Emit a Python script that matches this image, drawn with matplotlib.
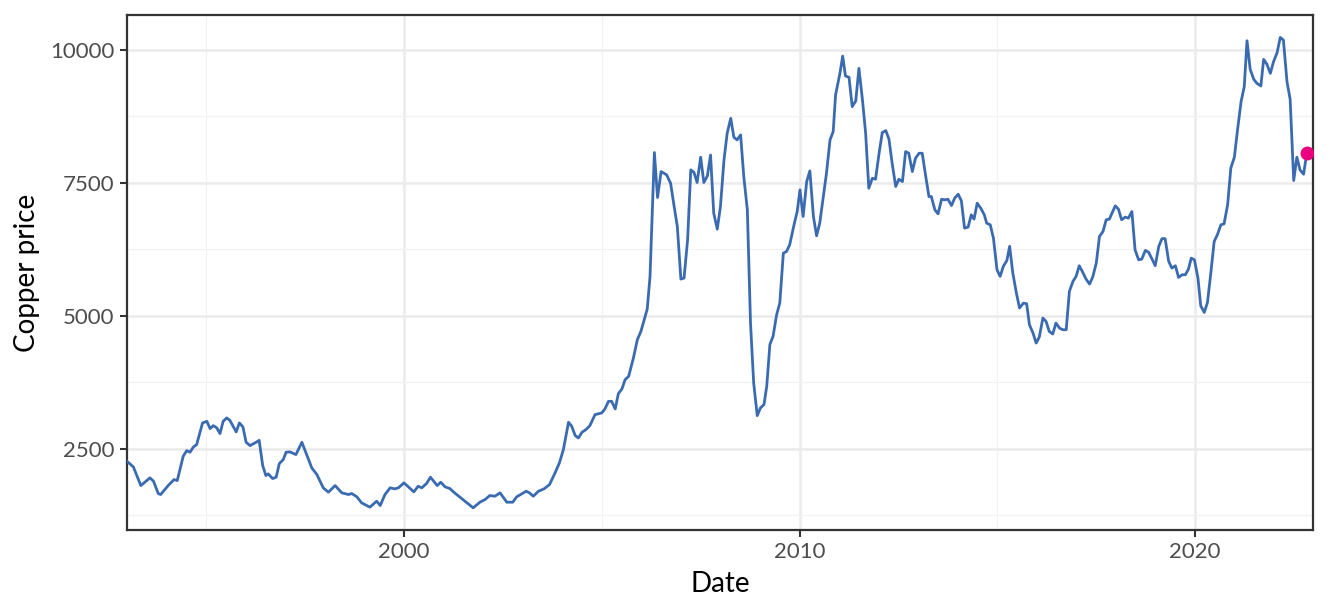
import matplotlib
matplotlib.use("Agg")
import matplotlib.pyplot as plt
import numpy as np

# copper price (decimal year, price)
years = [
    1993.00, 1993.16, 1993.35, 1993.58, 1993.67, 1993.79, 1993.85, 1994.04, 1994.19, 1994.27,
    1994.42, 1994.51, 1994.59, 1994.68, 1994.76, 1994.91, 1995.02, 1995.10, 1995.18, 1995.27,
    1995.35, 1995.43, 1995.52, 1995.60, 1995.76, 1995.84, 1995.93, 1996.01, 1996.11, 1996.28,
    1996.34, 1996.43, 1996.51, 1996.57, 1996.68, 1996.77, 1996.85, 1996.95, 1997.02, 1997.12,
    1997.27, 1997.42, 1997.54, 1997.67, 1997.80, 1997.96, 1998.09, 1998.26, 1998.43, 1998.60,
    1998.68, 1998.81, 1998.93, 1999.14, 1999.31, 1999.40, 1999.52, 1999.65, 1999.77, 1999.86,
    2000.00, 2000.11, 2000.25, 2000.36, 2000.45, 2000.57, 2000.67, 2000.84, 2000.93, 2001.04,
    2001.16, 2001.26, 2001.54, 2001.75, 2001.92, 2002.05, 2002.17, 2002.30, 2002.43, 2002.60,
    2002.75, 2002.85, 2003.09, 2003.17, 2003.27, 2003.40, 2003.54, 2003.68, 2003.82, 2003.93,
    2004.03, 2004.16, 2004.24, 2004.33, 2004.41, 2004.50, 2004.60, 2004.70, 2004.83, 2005.00,
    2005.08, 2005.17, 2005.25, 2005.34, 2005.42, 2005.51, 2005.59, 2005.68, 2005.80, 2005.90,
    2005.99, 2006.15, 2006.22, 2006.33, 2006.41, 2006.50, 2006.64, 2006.74, 2006.83, 2006.91,
    2007.00, 2007.08, 2007.17, 2007.25, 2007.33, 2007.41, 2007.50, 2007.58, 2007.67, 2007.75,
    2007.83, 2007.92, 2008.00, 2008.09, 2008.17, 2008.26, 2008.34, 2008.42, 2008.51, 2008.59,
    2008.68, 2008.76, 2008.84, 2008.93, 2009.01, 2009.10, 2009.17, 2009.25, 2009.33, 2009.42,
    2009.50, 2009.59, 2009.67, 2009.75, 2009.86, 2009.94, 2010.01, 2010.09, 2010.18, 2010.26,
    2010.35, 2010.43, 2010.51, 2010.60, 2010.68, 2010.77, 2010.85, 2010.91, 2011.02, 2011.09,
    2011.16, 2011.25, 2011.33, 2011.42, 2011.50, 2011.59, 2011.67, 2011.75, 2011.84, 2011.92,
    2012.01, 2012.09, 2012.18, 2012.26, 2012.34, 2012.43, 2012.51, 2012.60, 2012.68, 2012.76,
    2012.85, 2012.93, 2013.02, 2013.10, 2013.19, 2013.27, 2013.33, 2013.42, 2013.50, 2013.59,
    2013.67, 2013.75, 2013.84, 2013.92, 2014.01, 2014.09, 2014.17, 2014.26, 2014.34, 2014.41,
    2014.49, 2014.58, 2014.67, 2014.73, 2014.82, 2014.90, 2014.99, 2015.07, 2015.15, 2015.24,
    2015.31, 2015.39, 2015.48, 2015.56, 2015.66, 2015.74, 2015.81, 2015.90, 2015.98, 2016.06,
    2016.15, 2016.23, 2016.31, 2016.40, 2016.48, 2016.57, 2016.65, 2016.74, 2016.82, 2016.91,
    2016.99, 2017.07, 2017.16, 2017.24, 2017.33, 2017.41, 2017.50, 2017.58, 2017.67, 2017.75,
    2017.83, 2017.98, 2018.06, 2018.14, 2018.23, 2018.31, 2018.40, 2018.48, 2018.57, 2018.65,
    2018.74, 2018.82, 2018.91, 2018.99, 2019.08, 2019.16, 2019.24, 2019.33, 2019.41, 2019.50,
    2019.58, 2019.67, 2019.75, 2019.83, 2019.90, 2019.98, 2020.07, 2020.14, 2020.23, 2020.31,
    2020.39, 2020.48, 2020.56, 2020.65, 2020.73, 2020.82, 2020.90, 2020.99, 2021.07, 2021.16,
    2021.24, 2021.31, 2021.39, 2021.48, 2021.56, 2021.66, 2021.73, 2021.81, 2021.90, 2021.98,
    2022.07, 2022.15, 2022.23, 2022.32, 2022.40, 2022.49, 2022.57, 2022.65, 2022.74, 2022.82,
]
price = [
    2261, 2156, 1804, 1949, 1886, 1654, 1635, 1804, 1917, 1898,
    2355, 2462, 2431, 2531, 2575, 2983, 3013, 2876, 2932, 2889,
    2782, 3013, 3077, 3032, 2813, 2983, 2908, 2619, 2556, 2626,
    2656, 2180, 1992, 2024, 1936, 1961, 2218, 2293, 2431, 2437,
    2387, 2619, 2387, 2137, 2011, 1761, 1679, 1804, 1667, 1635,
    1654, 1592, 1479, 1397, 1510, 1428, 1635, 1761, 1742, 1761,
    1855, 1780, 1686, 1792, 1761, 1842, 1961, 1804, 1867, 1780,
    1748, 1679, 1510, 1385, 1491, 1541, 1616, 1604, 1667, 1491,
    1491, 1592, 1698, 1667, 1604, 1698, 1742, 1823, 2043, 2231,
    2481, 2995, 2920, 2744, 2700, 2807, 2857, 2932, 3139, 3171,
    3246, 3389, 3389, 3246, 3534, 3622, 3797, 3860, 4205, 4550,
    4706, 5127, 5741, 8071, 7225, 7713, 7651, 7494, 7055, 6680,
    5690, 5709, 6429, 7745, 7700, 7507, 7983, 7507, 7632, 8025,
    6930, 6630, 7055, 7933, 8434, 8716, 8359, 8309, 8403, 7619,
    6993, 4862, 3734, 3120, 3264, 3327, 3671, 4461, 4611, 5019,
    5238, 6178, 6209, 6335, 6711, 6961, 7369, 6868, 7525, 7726,
    6868, 6504, 6742, 7243, 7682, 8309, 8465, 9155, 9562, 9887,
    9512, 9487, 8935, 9042, 9656, 9061, 8434, 7400, 7588, 7569,
    8058, 8447, 8484, 8322, 7871, 7432, 7569, 7525, 8089, 8058,
    7713, 7964, 8058, 8058, 7619, 7243, 7243, 6993, 6918, 7193,
    7181, 7193, 7074, 7212, 7287, 7162, 6649, 6668, 6899, 6818,
    7118, 7024, 6899, 6742, 6711, 6461, 5865, 5741, 5929, 6041,
    6307, 5803, 5428, 5146, 5238, 5226, 4832, 4675, 4486, 4599,
    4956, 4894, 4706, 4656, 4862, 4769, 4737, 4737, 5459, 5647,
    5741, 5941, 5815, 5690, 5596, 5728, 5991, 6492, 6586, 6806,
    6818, 7068, 7006, 6806, 6856, 6837, 6961, 6241, 6053, 6066,
    6229, 6197, 6066, 5941, 6307, 6451, 6451, 6025, 5897, 5941,
    5721, 5771, 5771, 5878, 6084, 6053, 5709, 5188, 5062, 5250,
    5771, 6398, 6523, 6711, 6730, 7087, 7777, 7983, 8497, 9030,
    9311, 10175, 9637, 9450, 9374, 9324, 9825, 9737, 9562, 9781,
    9950, 10238, 10188, 9405, 9074, 7544, 7983, 7745, 7663, 8058,
]
x_ticks = [2000, 2010, 2020]
x_minor = [1995, 2005, 2015]
y_ticks = [2500, 5000, 7500, 10000]
y_minor = [1250, 3750, 6250, 8750]

plt.rcParams['font.family'] = ['Lato', 'DejaVu Sans']

fig = plt.figure(figsize=(13.44, 6.14), dpi=100)
ax = fig.add_axes([0.0945, 0.137, 0.8825, 0.8386])

ax.plot(years, price, color='#3a6bb1', lw=2.0, zorder=3)
ax.plot(years[-1], price[-1], 'o', color='#e8007f', ms=9, zorder=4)

ax.set_xlim(1993.0, 2022.98)
ax.set_ylim(970, 10660)
ax.set_xticks(x_ticks)
ax.set_xticks(x_minor, minor=True)
ax.set_yticks(y_ticks)
ax.set_yticks(y_minor, minor=True)
ax.set_xticklabels([str(t) for t in x_ticks])
ax.set_yticklabels([str(t) for t in y_ticks])

ax.grid(True, which='major', color='#ebebeb', lw=1.8, zorder=0)
ax.grid(True, which='minor', color='#f2f2f2', lw=0.9, zorder=0)
ax.set_axisbelow(True)

for s in ax.spines.values():
    s.set_color('#333333')
    s.set_linewidth(1.6)
ax.tick_params(which='major', length=5, width=1.5, color='#333333',
               labelsize=16, labelcolor='#4d4d4d', pad=4)
ax.tick_params(which='minor', length=0)

ax.set_xlabel('Date', fontsize=20, color='black', labelpad=6)
ax.set_ylabel('Copper price', fontsize=20, color='black', labelpad=7)

fig.savefig('out.png', dpi=100)
